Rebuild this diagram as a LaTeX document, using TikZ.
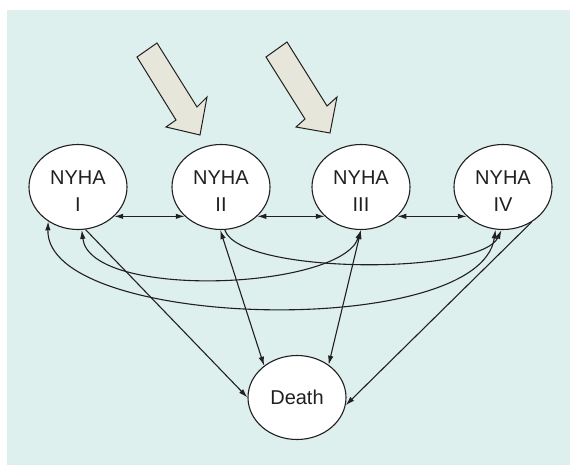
\documentclass[tikz,border=0pt]{standalone}
\usepackage{fontspec}
\setmainfont{Liberation Sans}
\usetikzlibrary{shapes.geometric,arrows.meta}
\definecolor{bgc}{RGB}{221,240,237}
\definecolor{arrfill}{RGB}{230,230,219}
\definecolor{ink}{RGB}{35,31,32}
\begin{document}
\begin{tikzpicture}[x=1pt,y=-1pt,
  state/.style={ellipse,draw=ink,fill=white,line width=1.1pt,minimum width=98pt,minimum height=85pt,inner sep=0pt},
  lbl/.style={text=ink,font=\fontsize{20}{27}\selectfont,align=center,inner sep=0pt},
  conn/.style={draw=ink,line width=1.1pt},
  blockarrow/.style={draw=ink,fill=arrfill,line width=1pt,line join=miter},
  >={Latex[length=9pt,width=5.5pt]}]
\useasboundingbox (0,0) rectangle (570,465);
\fill[bgc] (7,10) rectangle (570,465);
% block arrows
\draw[blockarrow] (157,43) -- (197,107) -- (207,97) -- (200,135) -- (166,127) -- (176,120) -- (137,57) -- cycle;
\draw[blockarrow] (287,42) -- (327,106) -- (337,97) -- (330,133) -- (296,127) -- (305,119) -- (266,57) -- cycle;
% states
\node[state] (I) at (78,187) {};
\node[state] (II) at (221,187) {};
\node[state] (III) at (361,187) {};
\node[state] (IV) at (503,187) {};
\node[state,minimum height=84pt] (D) at (297,397.5) {};
\node[lbl,yshift=-4.5pt] (tI) at (I) {NYHA\\I};
\node[lbl,yshift=-4.5pt] (tII) at (II) {NYHA\\II};
\node[lbl,yshift=-4.5pt] (tIII) at (III) {NYHA\\III};
\node[lbl,yshift=-4.5pt] (tIV) at (IV) {NYHA\\IV};
\node[lbl] (tD) at (D) {Death};
% horizontal transitions
\draw[conn,<->] (I.-39) -- (II.-141);
\draw[conn,<->] (II.-39) -- (III.-141);
\draw[conn,<->] (III.-39) -- (IV.-141);
% curved transitions
\draw[conn,<->] (I.-85) .. controls (90,300) and (340,290) .. (III.-90);
\draw[conn,->] (II.-85) .. controls (240,275) and (480,275) .. (IV.-92);
\draw[conn,<->] (I.-131) .. controls (45,330) and (480,340) .. (IV.-100);
% to death
\draw[conn,->] (I.-80) -- (D.180);
\draw[conn,<->] (II.-91) -- (D.136);
\draw[conn,<->] (III.-90) -- (D.46);
\draw[conn,->] (IV.-51) -- (D.-9);
\end{tikzpicture}
\end{document}
